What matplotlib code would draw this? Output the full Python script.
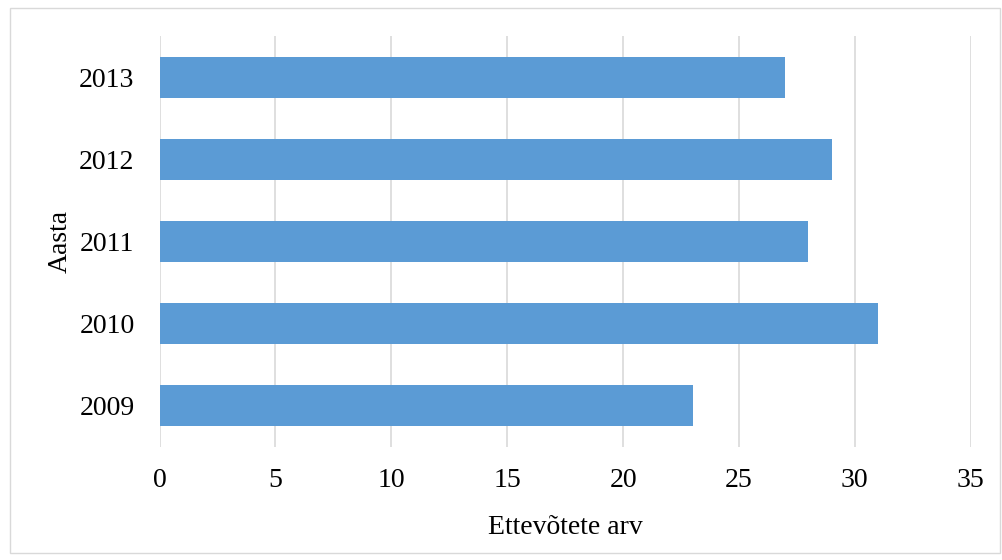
import matplotlib.pyplot as plt
from matplotlib.patches import Rectangle

years = ['2009', '2010', '2011', '2012', '2013']
counts = [23, 31, 28, 29, 27]
xticks = [0, 5, 10, 15, 20, 25, 30, 35]

plt.rcParams['font.family'] = ['Liberation Serif', 'DejaVu Serif']

fig = plt.figure(figsize=(10.02, 5.6), dpi=100)
ax = fig.add_axes([0.1592, 0.2018, 0.8096, 0.7339])

# outer chart border
fig.patches.append(Rectangle((10 / 1002, 1 - 553 / 560), 990 / 1002, 545 / 560,
                             transform=fig.transFigure, fill=False,
                             edgecolor='#d9d9d9', linewidth=1))

ax.barh(range(len(years)), counts, height=0.5, color='#5b9bd5', zorder=2)
ax.set_yticks(range(len(years)))
ax.set_yticklabels(years)
ax.set_ylim(-0.5, len(years) - 0.5)
ax.set_xlim(0, 35)
ax.set_xticks(xticks)
ax.grid(axis='x', color='#d9d9d9', linewidth=1.2, zorder=0)
for s in ax.spines.values():
    s.set_visible(False)
ax.tick_params(axis='both', length=0, labelsize=20)
ax.tick_params(axis='x', pad=15)
ax.tick_params(axis='y', pad=18)

ax.set_xlabel('Ettevõtete arv', fontsize=20)
ax.xaxis.set_label_coords(0.5, -0.165)
ax.set_ylabel('Aasta', fontsize=20)
ax.yaxis.set_label_coords(-0.107, 0.5)

fig.savefig('out.png', dpi=100)
